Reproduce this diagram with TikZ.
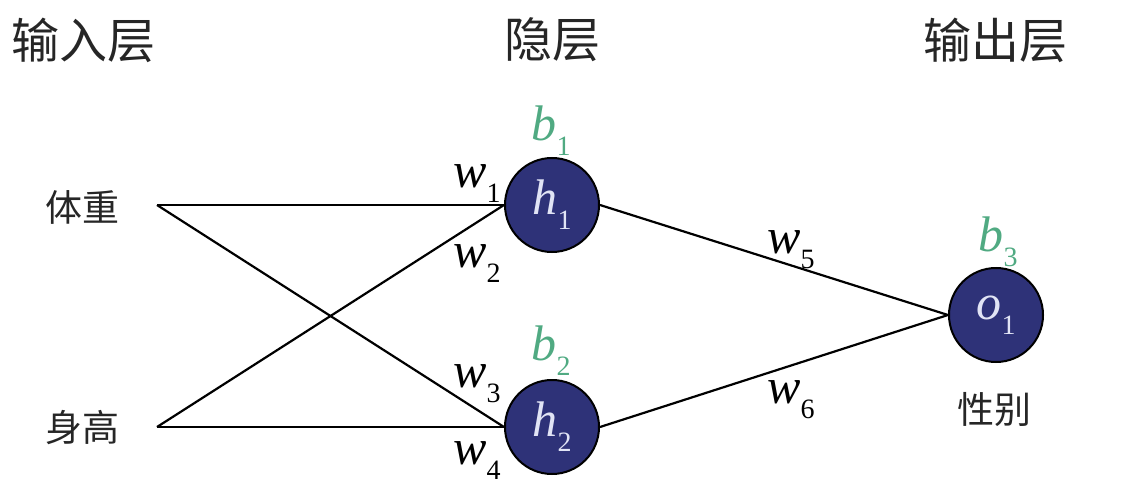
\documentclass[tikz,border=0pt]{standalone}
\usepackage{fontspec}
\setmainfont{Liberation Serif}
\newfontfamily\cjk{Noto Sans CJK SC}
\definecolor{navy}{RGB}{46,50,120}
\definecolor{bgreen}{RGB}{80,170,130}
\definecolor{ntext}{RGB}{225,228,245}
\newcommand\sub[1]{\raisebox{-0.3em}{\fontsize{28}{30}\selectfont\upshape #1}}
\begin{document}
\begin{tikzpicture}[x=1pt,y=-1pt]
\tikzset{
  neuron/.style={circle,draw=black,line width=2pt,fill=navy,minimum size=94pt,inner sep=0pt,text=ntext,font=\fontsize{50}{52}\selectfont\itshape},
  conn/.style={line width=2.2pt},
  head/.style={font=\cjk\fontsize{48}{50}\selectfont,text=black!85},
  inp/.style={font=\cjk\fontsize{37}{40}\selectfont,text=black!85},
  wlab/.style={font=\fontsize{50}{52}\selectfont\itshape,inner sep=0pt},
  blab/.style={wlab,text=bgreen}
}
\useasboundingbox (0,0) rectangle (1122,492);
% headings
\node[head] (hin) at (84,40) {输入层};
\node[head] (hhid) at (552,40) {隐层};
\node[head] (hout) at (995,40) {输出层};
% inputs
\node[inp] (x1) at (82,207) {体重};
\node[inp] (x2) at (82,428) {身高};
\coordinate (s1) at (157,205);
\coordinate (s2) at (157,427);
% neurons
\node[neuron] (h1) at (552,205) {h\sub{1}};
\node[neuron] (h2) at (552,427) {h\sub{2}};
\node[neuron] (o1) at (996,315) {o\sub{1}};
\node[inp] (y) at (994,410) {性别};
% connections
\draw[conn] (s1) -- (h1.west);
\draw[conn] (s1) -- (h2.west);
\draw[conn] (s2) -- (h1.west);
\draw[conn] (s2) -- (h2.west);
\draw[conn] (h1.east) -- (o1.west);
\draw[conn] (h2.east) -- (o1.west);
% labels
\node[wlab] (w1) at (477,184) {w\sub{1}};
\node[wlab] (w2) at (477,264) {w\sub{2}};
\node[wlab] (w3) at (477,384) {w\sub{3}};
\node[wlab] (w4) at (477,461) {w\sub{4}};
\node[wlab] (w5) at (791,250) {w\sub{5}};
\node[wlab] (w6) at (791,400) {w\sub{6}};
\node[blab] (b1) at (551,131) {b\sub{1}};
\node[blab] (b2) at (551,351) {b\sub{2}};
\node[blab] (b3) at (998,242) {b\sub{3}};
\end{tikzpicture}
\end{document}
